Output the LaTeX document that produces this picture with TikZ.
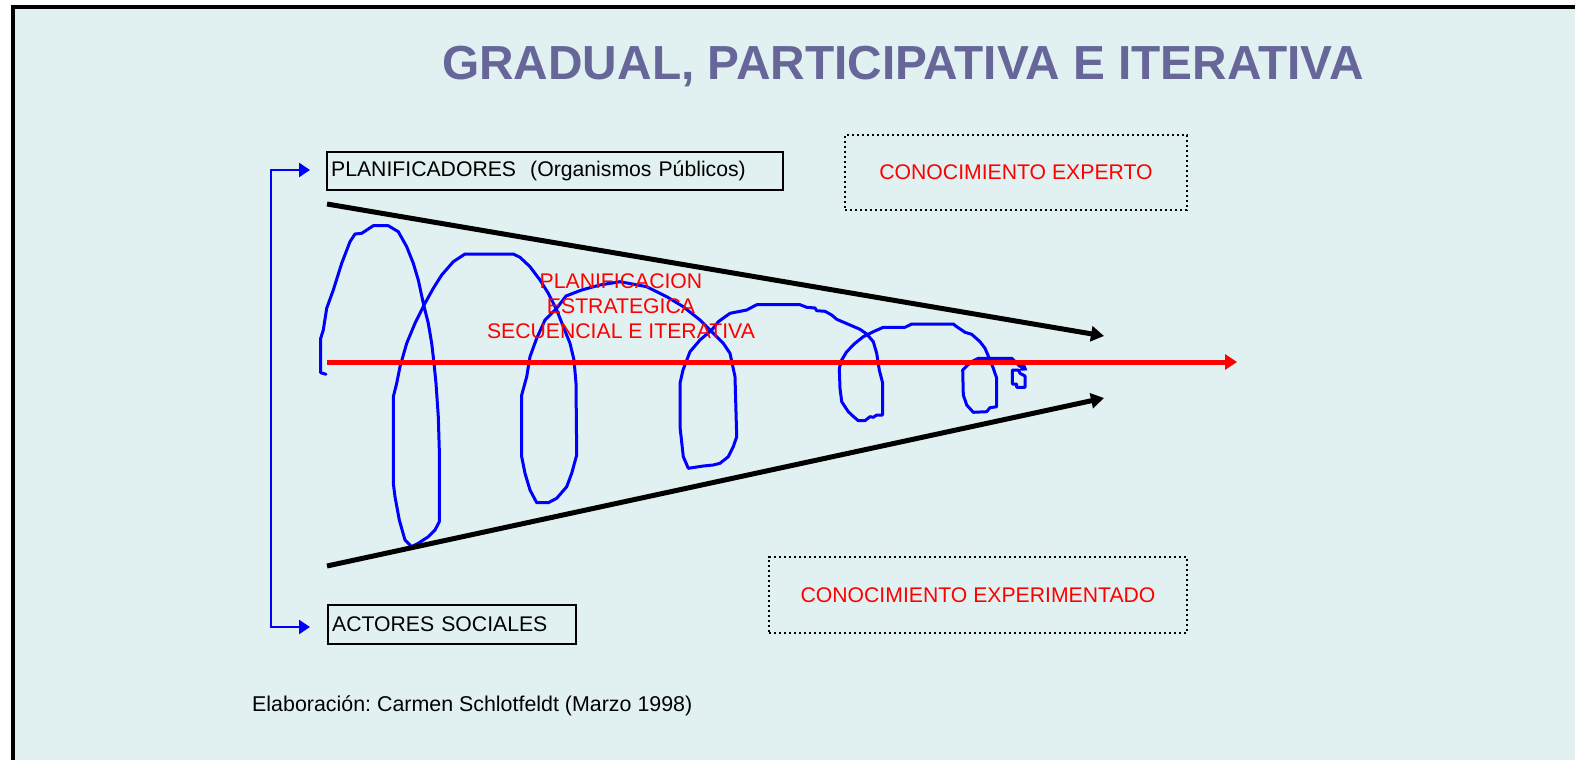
\documentclass[tikz,border=0pt]{standalone}
\usepackage{fontspec}
\setmainfont{Liberation Sans}
\usetikzlibrary{arrows.meta}
\definecolor{bgcol}{RGB}{225,241,241}
\definecolor{titlecol}{RGB}{102,102,153}
\frenchspacing
\begin{document}
\begin{tikzpicture}[x=1pt,y=-1pt,
  lbl/.style={font=\fontsize{21.2}{25}\selectfont, inner sep=0pt},
  solidbox/.style={draw=black, line width=2.3pt, font=\fontsize{21.2}{25}\selectfont,
     inner xsep=4pt, inner ysep=0pt, align=left, anchor=north west},
  dotbox/.style={draw=black, line width=2.4pt, dash pattern=on 2.4pt off 2.6pt,
     text=red, font=\fontsize{21.2}{25}\selectfont, inner sep=0pt},
  blackarrow/.style={draw=black, line width=5pt, -{Triangle[length=13pt,width=15pt]}},
  redarrow/.style={draw=red, line width=5pt, -{Triangle[length=12pt,width=15pt]}},
  bracket/.style={draw=blue, line width=2.5pt, -{Triangle[length=11pt,width=14pt]}},
  spiral/.style={draw=blue, line width=3pt, line join=round, line cap=round}]
\useasboundingbox (0,0) rectangle (1575,760);
\fill[white] (0,0) rectangle (1575,760);
\fill[bgcol] (13,7) rectangle (1575,760);
\draw[black, line width=4.5pt] (13,760) -- (13,7) -- (1575,7);

% title
\node[font=\bfseries\fontsize{47.8}{57}\selectfont, text=titlecol, anchor=base, inner sep=0pt]
  (title) at (903,80) {GRADUAL, PARTICIPATIVA E ITERATIVA};

% boxes
\node[solidbox, text width=448pt, minimum height=38pt] (plan) at (326,151)
  {PLANIFICADORES\ \ (Organismos Públicos)};
\node[solidbox, text width=240pt, minimum height=39pt] (actor) at (327,604)
  {ACTORES SOCIALES};
\node[dotbox, minimum width=342pt, minimum height=75pt] (experto) at (1016,172.5)
  {CONOCIMIENTO EXPERTO};
\node[dotbox, minimum width=418pt, minimum height=76pt] (experim) at (978,595)
  {CONOCIMIENTO EXPERIMENTADO};

% bracket
\coordinate (btop) at (271,170);
\coordinate (bbot) at (271,627);
\coordinate (ptip) at (310,170);
\coordinate (atip) at (310,627);
\draw[bracket] (bbot) -- (btop) -- (ptip);
\draw[bracket] (btop) -- (bbot) -- (atip);

% spiral
\draw[spiral] (326,374.3) -- (320.7,372.7) -- (320.7,356.7) -- (320.7,338.3) -- (323.3,330) -- (326.7,308.3) -- (333.3,290) -- (341.7,263.3) -- (350,241.7) -- (355,234) -- (361.7,233.3) -- (373.3,225.7) -- (388.3,225.7) -- (398.3,231.7) -- (406.7,246.7) -- (413.3,263.3) -- (418.3,280) -- (423.3,303.3) -- (428.3,323.3) -- (431.7,343.3) -- (434,363.3) -- (436,383.3) -- (438.3,416.7) -- (439.3,450) -- (439.3,521.7) -- (435,530) -- (428.3,536.7) -- (418.3,543.3) -- (411.7,546.7) -- (405,540) -- (399.3,520) -- (395,496.7) -- (393.3,483.3) -- (393.3,396.7) -- (396.7,383.3) -- (400,366.7) -- (406.7,343.3) -- (415,323.3) -- (425,303.3) -- (433.3,288.3) -- (441.7,275) -- (453.3,261.7) -- (465,254) -- (513.3,254) -- (520,257.3) -- (530,266.7) -- (540,280) -- (548.3,293.3) -- (556.7,310) -- (563.3,326.7) -- (570,343.3) -- (574,360) -- (576,383.3) -- (576.7,455) -- (571.7,473.3) -- (566.7,486.7) -- (556.7,498.3) -- (548.3,502.7) -- (536.7,502.7) -- (530,490) -- (525,473.3) -- (521.7,456.7) -- (521.7,395) -- (526.7,376.7) -- (530,356.7) -- (536.7,338.3) -- (545,320) -- (556.7,308.3) -- (566,296) -- (581.7,290) -- (600,285) -- (620,281.7) -- (646.7,286.7) -- (666.7,296.7) -- (683.3,306.7) -- (700,320) -- (713.3,333.3) -- (723.3,343.3) -- (730,353.3) -- (735,376.7) -- (736.7,436.7) -- (733.3,446.7) -- (728.3,456.7) -- (720,463.3) -- (713.3,465) -- (703.3,466) -- (688.3,468.3) -- (683.3,456.7) -- (680,426.7) -- (680,383.3) -- (683,370) -- (690,351.7) -- (700,340) -- (711.7,330) -- (718.3,321.7) -- (730,313.3) -- (746.7,310) -- (756.7,304.7) -- (800,304.7) -- (806.7,307.3) -- (815,308) -- (816.7,310.7) -- (825,311.3) -- (831.7,315) -- (836.7,319.3) -- (850,325) -- (860,329.3) -- (866.7,334) -- (873.3,341.7) -- (876.7,353.3) -- (879.3,370) -- (882.7,383.3) -- (882.7,415) -- (876.7,415) -- (873.3,417.3) -- (870,416.7) -- (865,420.7) -- (858.3,420.7) -- (851.7,415) -- (848.3,411.7) -- (841.7,401.7) -- (840,388.3) -- (839.3,368.3) -- (841.7,360) -- (846.7,351.7) -- (855,343.3) -- (863.3,336.7) -- (873.3,331.7) -- (883.3,327.3) -- (905,327.3) -- (911.7,324) -- (953.3,324) -- (956.7,326.7) -- (965,332.3) -- (971.7,334.3) -- (980,341.7) -- (985,348.3) -- (988.3,356) -- (993.3,368.3) -- (996.7,378.3) -- (996.7,406.7) -- (990,407.7) -- (986.7,411.7) -- (973.3,412.3) -- (966.7,405) -- (963.3,395) -- (962.7,370) -- (966.7,366) -- (971.7,361.7) -- (978.3,358.3) -- (1011.7,358.3) -- (1016.7,363.3) -- (1020,366.5);
\draw[blue, line width=3pt, -{Triangle[length=7pt,width=9pt]}] (1016.7,363.3) -- (1027.5,370.5);
\draw[spiral] (1012.3,370) -- (1012.3,384) -- (1016.7,384) -- (1016.7,387.3) -- (1025,387.3) -- (1025,376) -- (1020,373.3) -- (1018.3,370) -- cycle;

% funnel lines
\coordinate (ut0) at (327,204);
\coordinate (ut1) at (1104,336);
\coordinate (lt0) at (327,566);
\coordinate (lt1) at (1104,398);
\coordinate (r0) at (327,362);
\coordinate (r1) at (1237,362);
\draw[blackarrow] (ut0) -- (ut1);
\draw[blackarrow] (lt0) -- (lt1);
\draw[redarrow] (r0) -- (r1);

% texts
\node[lbl, text=red, align=center, anchor=base] (strat) at (621,338.3)
  {PLANIFICACION\\ESTRATEGICA\\SECUENCIAL E ITERATIVA};
\node[lbl, anchor=base west, font=\fontsize{21.4}{25}\selectfont] (credit) at (252,711)
  {Elaboración: Carmen Schlotfeldt (Marzo 1998)};
\end{tikzpicture}
\end{document}
